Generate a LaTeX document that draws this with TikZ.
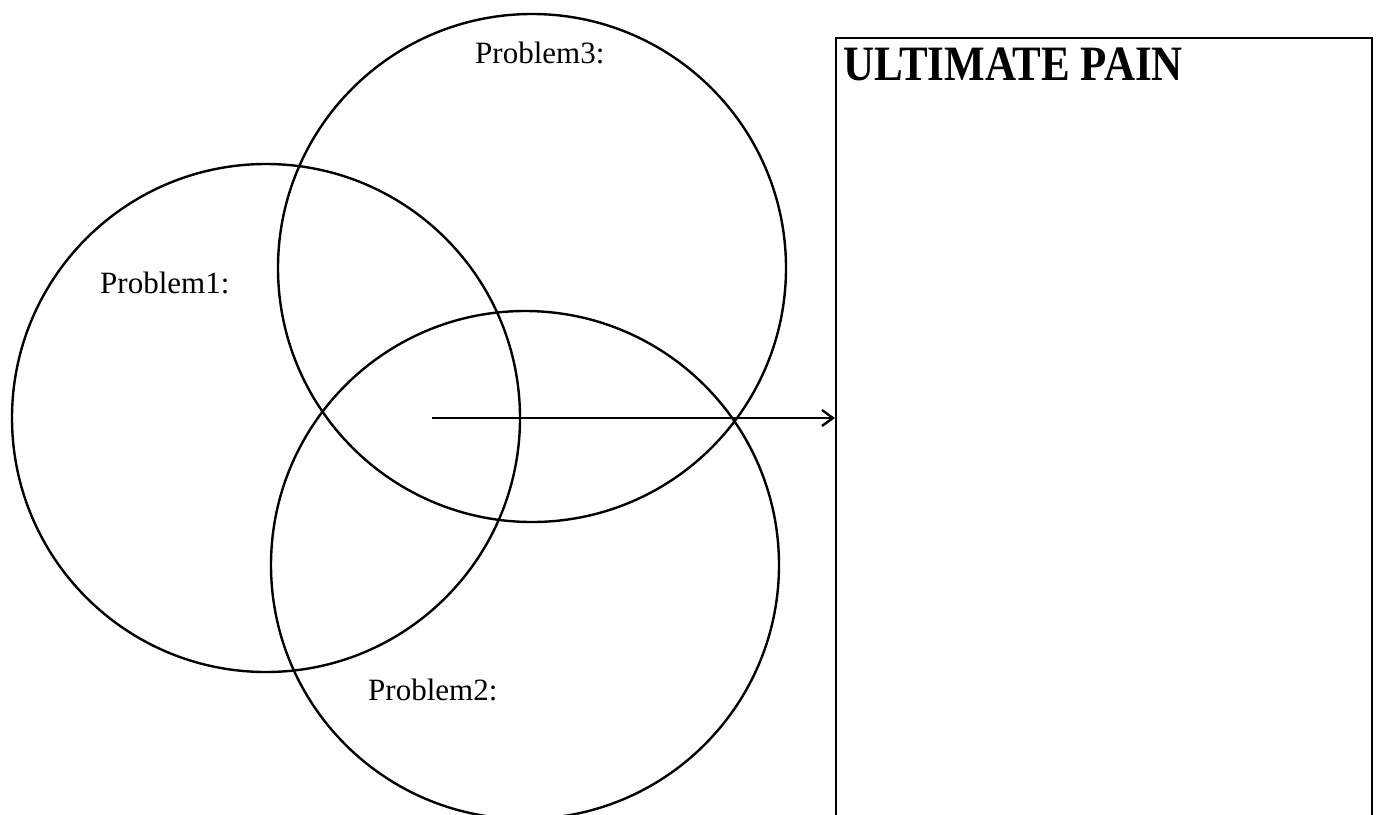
\documentclass[tikz,border=0pt]{standalone}
\usepackage{fontspec}
\setmainfont{Liberation Serif}
\usetikzlibrary{arrows.meta}
\begin{document}
\begin{tikzpicture}[x=1pt,y=-1pt,
  ring/.style={draw,circle,line width=2.4pt,minimum size=508pt,inner sep=0pt},
  lbl/.style={anchor=base west,inner sep=0pt,font=\fontsize{31}{36}\selectfont},
  panel/.style={draw,line width=2.8pt},
  title/.style={anchor=base west,inner sep=0pt,font=\fontsize{43}{50}\selectfont\bfseries},
  conn/.style={draw,line width=2.4pt,-{Straight Barb[length=11pt,width=16pt,line width=2.4pt]}}]
\useasboundingbox (0,0) rectangle (1380,814);
\node[ring] (c1) at (266,418) {};
\node[ring] (c3) at (532,268) {};
\node[ring] (c2) at (525,565) {};
\draw[panel] (836,830) -- (836,38) -- (1372,38) -- (1372,830);
\coordinate (pl) at (835,418);
\coordinate (st) at (432,418);
\draw[conn] (st) -- (pl);
\node[lbl] (t1) at (100,293) {Problem1:};
\node[lbl] (t3) at (475,63) {Problem3:};
\node[lbl] (t2) at (368,700) {Problem2:};
\node[title] (tt) at (843,80) {\scalebox{1}[1.15]{ULTIMATE PAIN}};
\end{tikzpicture}
\end{document}
